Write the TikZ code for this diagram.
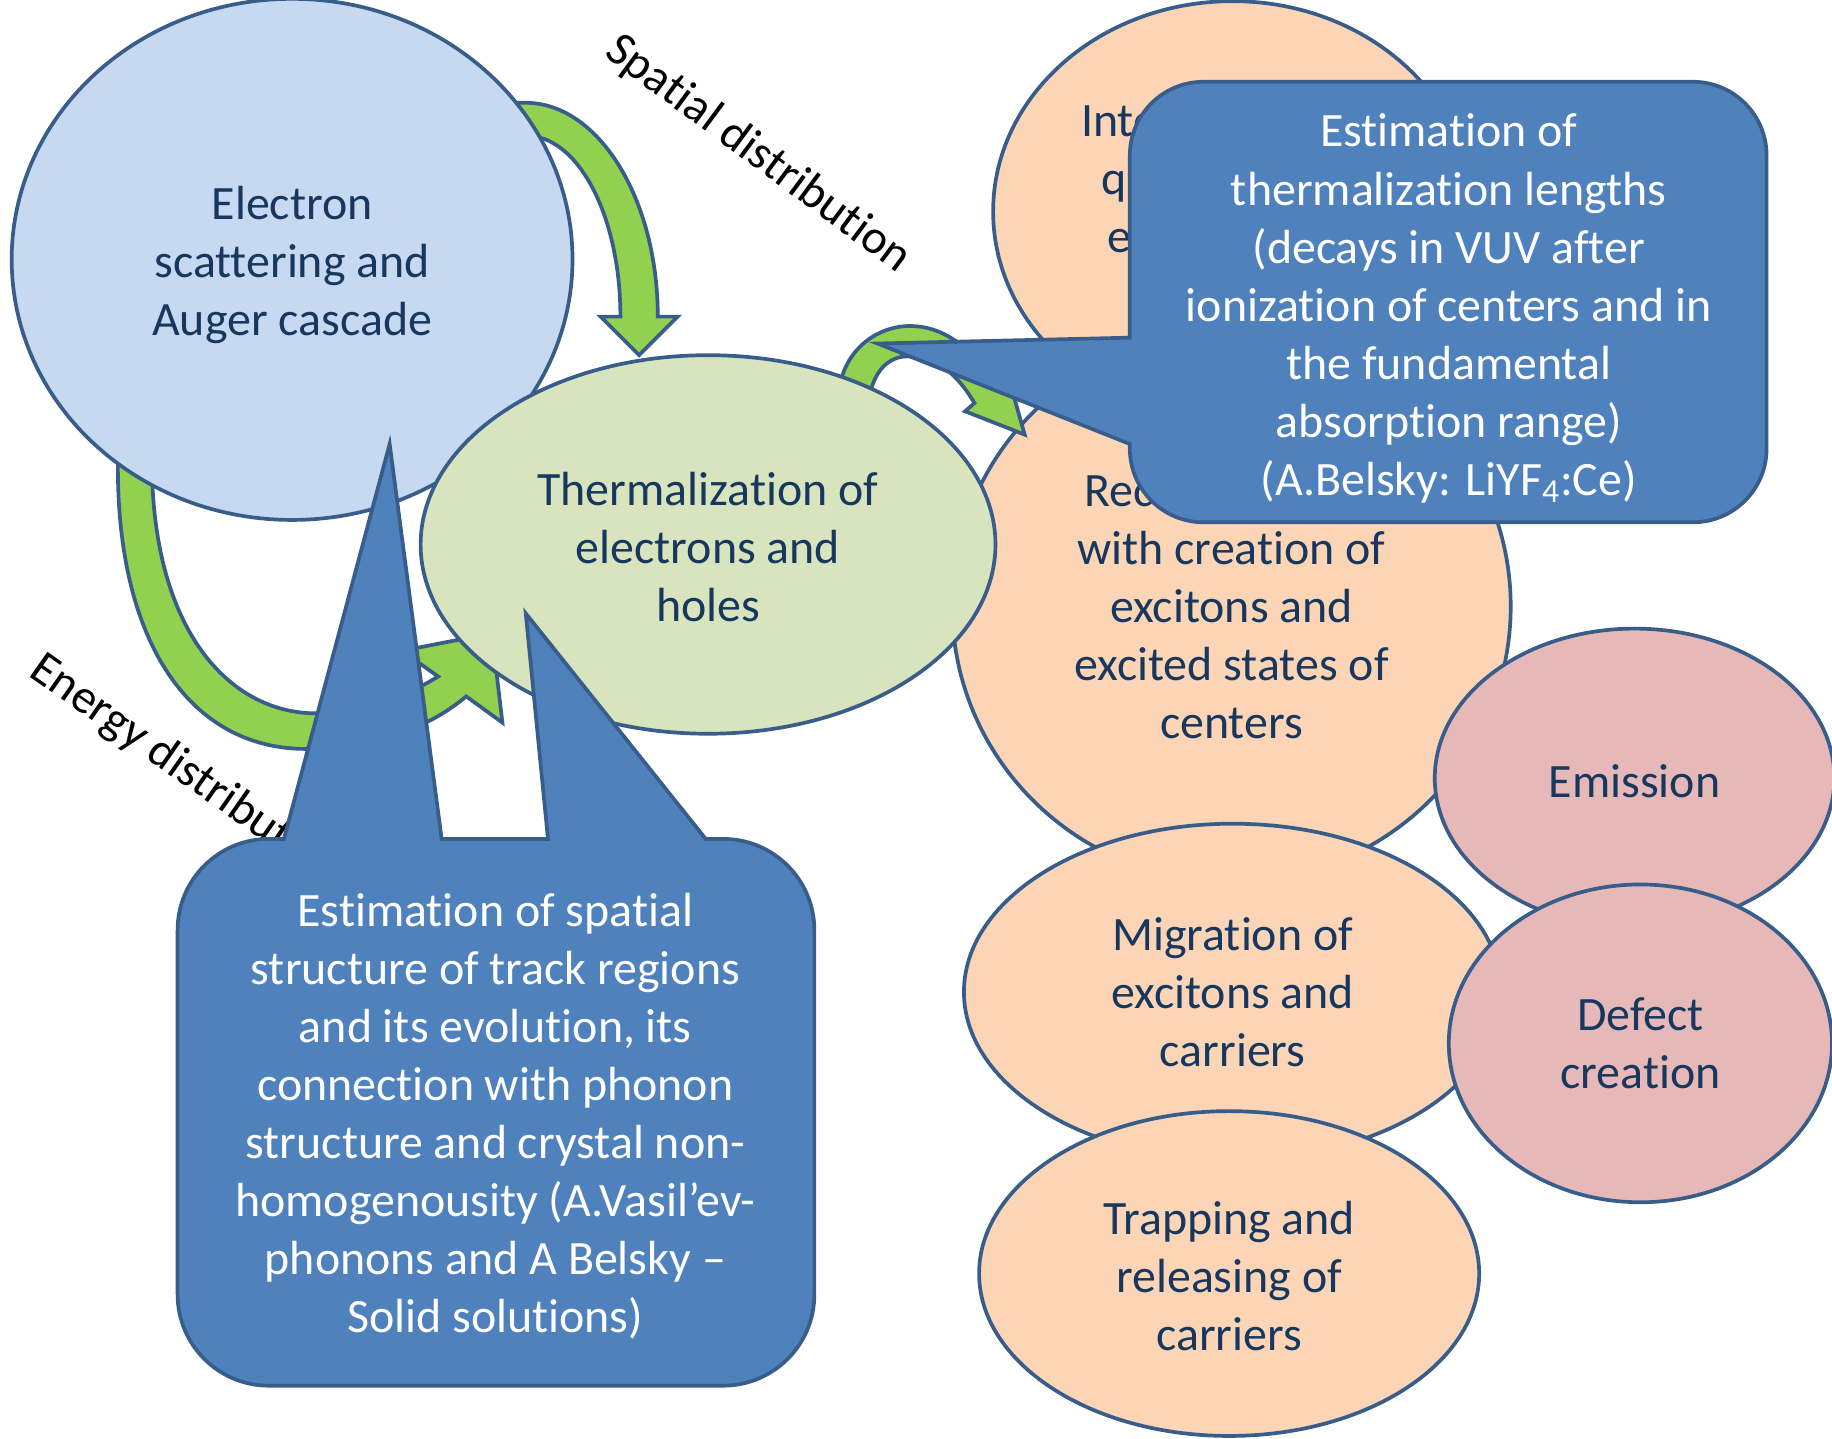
\documentclass[tikz,border=0pt]{standalone}
\usepackage{fontspec}
\setmainfont{Carlito}[Ligatures=NoCommon]
\usetikzlibrary{shapes.geometric}
\definecolor{edge}{HTML}{385D8A}
\definecolor{skyfill}{HTML}{C6D9F1}
\definecolor{leaffill}{HTML}{D7E4BD}
\definecolor{peach}{HTML}{FBD5B5}
\definecolor{rose}{HTML}{E6B9B8}
\definecolor{callfill}{HTML}{4F81BD}
\definecolor{arrowfill}{HTML}{92D050}
\definecolor{ink}{HTML}{17375E}
\newcommand\ux{0.6pt}
\newcommand\bigfs{\fontsize{24.6pt}{29.8pt}\selectfont}

\begin{document}
\begin{tikzpicture}[x=0.6pt,y=-0.6pt,
  bub/.style={ellipse, draw=edge, line width=1.9pt, inner sep=0pt, align=center, text=ink, font=\bigfs},
  band/.style={draw=edge, fill=arrowfill, line width=1.9pt, line join=miter},
  balloon/.style={draw=edge, fill=callfill, line width=1.9pt, line join=miter},
  balloontext/.style={align=center, text=white, font=\bigfs, inner sep=0pt},
  bubtext/.style={align=center, text=ink, font=\bigfs, inner sep=0pt},
  tag/.style={font=\bigfs, text=black, inner sep=0pt},
  frag/.style={font=\bigfs, text=ink, inner sep=0pt, anchor=base west}
]
\useasboundingbox (0,0) rectangle (1568,1231);

% curved arrow down onto the thermalization stage
\draw[band] (440,88) -- (450,88) .. controls (512,88) and (563,170) .. (563,271)
  -- (580,271) -- (547,304) -- (514,271) -- (531,271)
  .. controls (531,185) and (495,116) .. (450,116) -- (440,116) -- cycle;

% large looping arrow round the bottom left
\draw[band] (101,390) .. controls (98,545) and (160,641) .. (262,641)
  .. controls (315,641) and (365,625) .. (399,596)
  -- (430,618.5) -- (421,542) -- (344,557) -- (375,579)
  .. controls (345,598) and (305,610.5) .. (271,610.5)
  .. controls (200,611) and (132,545) .. (130,400) -- cycle;

\node[bub, fill=skyfill, minimum width=480*\ux, minimum height=446*\ux] (scatter) at (250,222) {};
\node[bubtext] (scatterlabel) at (250,227) {Electron\\scattering and\\Auger cascade};

\node[bub, fill=peach, minimum width=410*\ux, minimum height=360*\ux] (interact) at (1055,181) {};
\node[frag] (fragA) at (925,117) {Inte};
\node[frag] (fragB) at (942.5,166.5) {q};
\node[frag] (fragC) at (947.5,216) {e};

\node[bub, fill=peach, minimum width=478*\ux, minimum height=472*\ux] (recomb) at (1054,519)
  {Recombination\\with creation of\\excitons and\\excited states of\\centers};

% small arrow from thermalization to recombination
\draw[band] (718,335) .. controls (722,300) and (750,279) .. (779,279)
  .. controls (805,279) and (830,295) .. (852,328)
  -- (862,319) -- (877,372) -- (826,352) -- (834,345)
  .. controls (818,318) and (800,305) .. (777,305)
  .. controls (760,305) and (748,318) .. (744,340) -- cycle;

\node[bub, fill=leaffill, minimum width=492*\ux, minimum height=324*\ux] (thermal) at (606,466) {};
\node[bubtext] (thermallabel) at (606,468) {Thermalization of\\electrons and\\holes};

\node[bub, fill=rose, minimum width=342*\ux, minimum height=256*\ux] (emission) at (1399,666) {};
\node[bubtext] (emissionlabel) at (1399,669) {Emission};
\node[bub, fill=peach, minimum width=460*\ux, minimum height=288*\ux] (migration) at (1055,849)
  {Migration of\\excitons and\\carriers};
\node[bub, fill=rose, minimum width=328*\ux, minimum height=272*\ux] (defect) at (1404,893)
  {Defect\\creation};
\node[bub, fill=peach, minimum width=428*\ux, minimum height=278*\ux] (trapping) at (1052,1090) {};
\node[bubtext] (trappinglabel) at (1052,1092) {Trapping and\\releasing of\\carriers};

\node[tag, rotate=-36.5] (spatial) at (649,132) {Spatial distribution};
\node[tag, rotate=-35] (energy) at (159,660) {Energy distribution};

% callout on the right, pointing at the small arrow
\draw[balloon] (967,133) .. controls (967,98.2) and (995.2,70) .. (1030,70) -- (1449,70)
  .. controls (1483.8,70) and (1512,98.2) .. (1512,133) -- (1512,384)
  .. controls (1512,418.8) and (1483.8,447) .. (1449,447) -- (1030,447)
  .. controls (995.2,447) and (967,418.8) .. (967,384) -- (967,380)
  -- (751,294) -- (967,289) -- cycle;
\node[balloontext] (lengths) at (1240,264)
  {Estimation of\\thermalization lengths\\(decays in VUV after\\ionization of centers and in\\the fundamental\\absorption range)\\(A.Belsky: LiYF\textsubscript{4}:Ce)};

% callout at the bottom, with two pointers
\draw[balloon] (152,796) .. controls (152,753) and (187,718) .. (230,718) -- (243,718)
  -- (333.5,380) -- (378,718) -- (469,718) -- (450,525) -- (604,718) -- (619,718)
  .. controls (662,718) and (697,753) .. (697,796) -- (697,1108)
  .. controls (697,1151) and (662,1186) .. (619,1186) -- (230,1186)
  .. controls (187,1186) and (152,1151) .. (152,1108) -- cycle;
\node[balloontext] (track) at (424,955.5)
  {Estimation of spatial\\structure of track regions\\and its evolution, its\\connection with phonon\\structure and crystal non-\\homogenousity (A.Vasil’ev-\\phonons and A Belsky –\\Solid solutions)};
\end{tikzpicture}
\end{document}
